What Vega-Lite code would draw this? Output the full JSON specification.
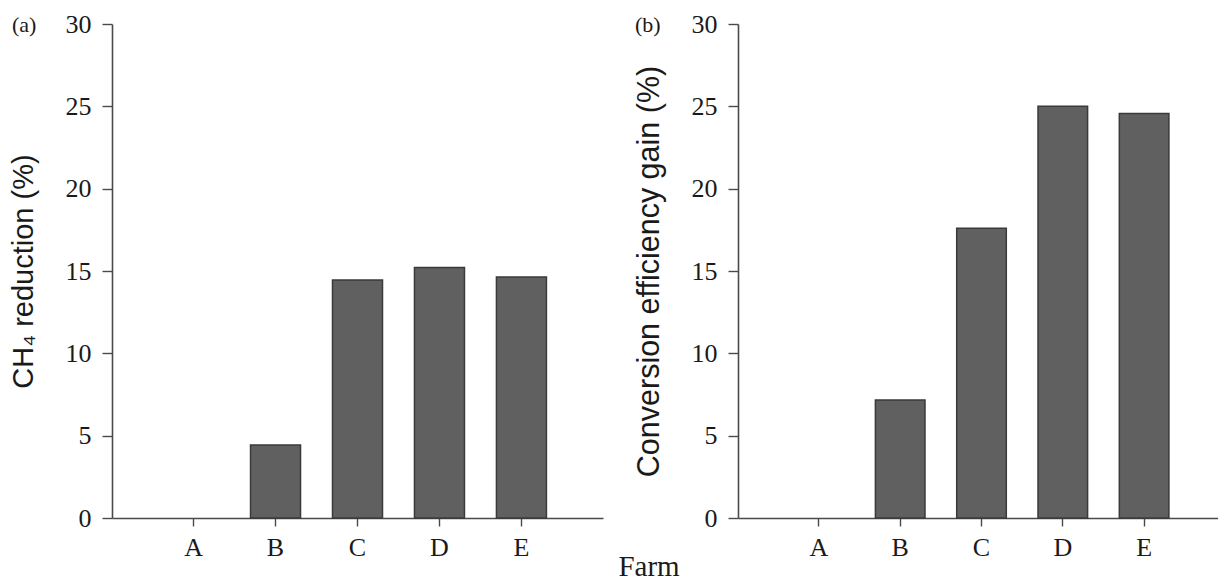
{
  "$schema": "https://vega.github.io/schema/vega-lite/v6.json",
  "padding": {"left": 9, "top": 11, "right": 0, "bottom": 0},
  "background": "white",
  "spacing": 31,
  "title": {"text": "Farm", "orient": "bottom", "anchor": "middle", "font": "Liberation Serif", "fontSize": 29, "fontWeight": "normal", "color": "#1a1a1a", "offset": -7, "dx": 32},
  "config": {
    "view": {"stroke": null},
    "axis": {
      "grid": false,
      "domainColor": "#4a4a4a",
      "domainWidth": 1.6,
      "tickColor": "#4a4a4a",
      "tickWidth": 1.4,
      "labelFont": "Liberation Serif",
      "labelFontSize": 26,
      "labelColor": "#1a1a1a",
      "titleFont": "Liberation Sans",
      "titleFontSize": 29,
      "titleFontWeight": "normal",
      "titleColor": "#1a1a1a"
    }
  },
  "hconcat": [
    {
      "width": 491,
      "height": 494,
      "title": {"text": "(a)", "orient": "top", "anchor": "start", "frame": "bounds", "font": "Liberation Serif", "fontSize": 22, "fontWeight": "normal", "color": "#1a1a1a", "offset": -26, "dx": 3},
      "data": {"values": [
        {"farm": "A", "value": 0},
        {"farm": "B", "value": 4.43},
        {"farm": "C", "value": 14.45},
        {"farm": "D", "value": 15.22},
        {"farm": "E", "value": 14.63}
      ]},
      "mark": {"type": "bar", "fill": "#606060", "strokeWidth": 1.5},
      "encoding": {
        "x": {"field": "farm", "type": "nominal", "sort": ["A", "B", "C", "D", "E"],
          "scale": {"paddingInner": 0.39, "paddingOuter": 0.69},
          "axis": {"title": null, "labelAngle": 0, "tickSize": 8, "labelPadding": 8}},
        "y": {"field": "value", "type": "quantitative",
          "scale": {"domain": [0, 30], "nice": false},
          "axis": {"title": "CH₄ reduction (%)", "values": [0, 5, 10, 15, 20, 25, 30], "tickSize": 10, "labelPadding": 11, "titlePadding": 27}},
        "stroke": {"condition": {"test": "datum.value > 0", "value": "#3a3a3a"}, "value": null}
      }
    },
    {
      "width": 487,
      "height": 494,
      "title": {"text": "(b)", "orient": "top", "anchor": "start", "frame": "bounds", "font": "Liberation Serif", "fontSize": 22, "fontWeight": "normal", "color": "#1a1a1a", "offset": -26, "dx": 1},
      "data": {"values": [
        {"farm": "A", "value": 0},
        {"farm": "B", "value": 7.16},
        {"farm": "C", "value": 17.59},
        {"farm": "D", "value": 25.0},
        {"farm": "E", "value": 24.57}
      ]},
      "mark": {"type": "bar", "fill": "#606060", "strokeWidth": 1.5},
      "encoding": {
        "x": {"field": "farm", "type": "nominal", "sort": ["A", "B", "C", "D", "E"],
          "scale": {"paddingInner": 0.39, "paddingOuter": 0.69},
          "axis": {"title": null, "labelAngle": 0, "tickSize": 8, "labelPadding": 8}},
        "y": {"field": "value", "type": "quantitative",
          "scale": {"domain": [0, 30], "nice": false},
          "axis": {"title": "Conversion efficiency gain (%)", "titleFontSize": 30.5, "values": [0, 5, 10, 15, 20, 25, 30], "tickSize": 10, "labelPadding": 11, "titlePadding": 27}},
        "stroke": {"condition": {"test": "datum.value > 0", "value": "#3a3a3a"}, "value": null}
      }
    }
  ]
}
